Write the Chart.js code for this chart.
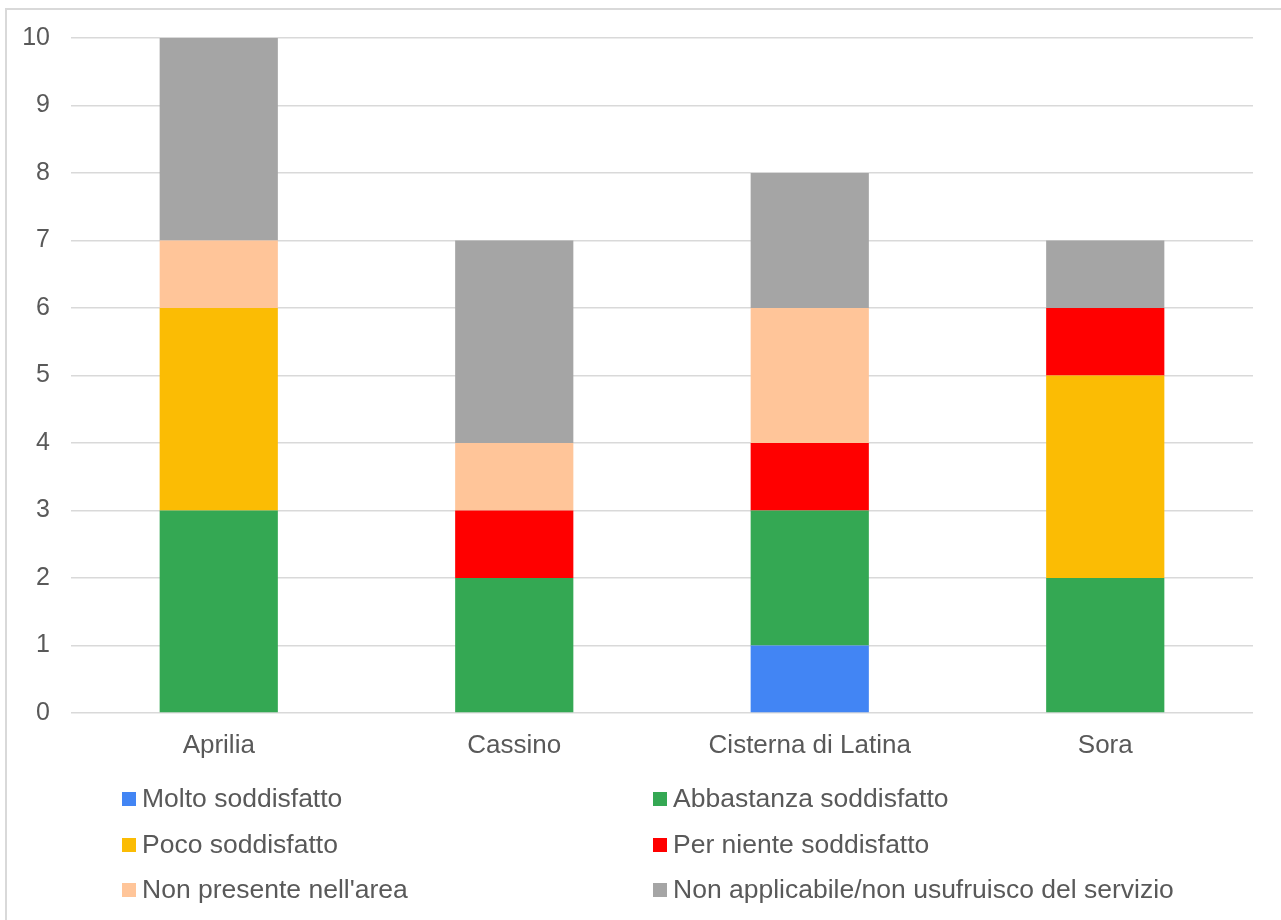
<!DOCTYPE html>
<html>
<head>
<meta charset="utf-8">
<script src="https://cdn.jsdelivr.net/npm/chart.js@4.4.1/dist/chart.umd.min.js"></script>
<style>
  html, body { margin: 0; padding: 0; background: #ffffff; overflow: hidden; }
  #wrap { position: relative; width: 1281px; height: 920px; }
  #frame { position: absolute; left: 5px; top: 8px; width: 1300px; height: 1000px; border: 2px solid #d9d9d9; box-sizing: border-box; pointer-events: none; }
  canvas { position: absolute; left: 0; top: 0; }
</style>
</head>
<body>
<div id="wrap">
  <div id="frame"></div>
  <canvas id="c" width="1281" height="920"></canvas>
</div>
<script>
const categories = ['Aprilia', 'Cassino', 'Cisterna di Latina', 'Sora'];
const seriesNames = [
  'Molto soddisfatto',
  'Abbastanza soddisfatto',
  'Poco soddisfatto',
  'Per niente soddisfatto',
  "Non presente nell'area",
  'Non applicabile/non usufruisco del servizio'
];
const molto = [0, 0, 1, 0];
const abbastanza = [3, 2, 2, 2];
const poco = [3, 0, 0, 3];
const perNiente = [0, 1, 1, 1];
const nonPresente = [1, 1, 2, 0];
const nonApplicabile = [3, 3, 2, 1];
const yTickValues = [0, 1, 2, 3, 4, 5, 6, 7, 8, 9, 10];

const seriesValues = [molto, abbastanza, poco, perNiente, nonPresente, nonApplicabile];
const seriesColors = ['#4285f4', '#34a853', '#fbbc04', '#ff0000', '#ffc599', '#a5a5a5'];

const FONT = "'Liberation Sans', Arial, sans-serif";
const TEXT = '#595959';

const legendPlugin = {
  id: 'twoColLegend',
  afterDraw(chart) {
    const ctx = chart.ctx;
    const boxX = [122, 653];
    const textX = [142, 673];
    const rowY = [799, 845, 890];
    ctx.save();
    ctx.font = '26.5px ' + FONT;
    ctx.textBaseline = 'middle';
    ctx.textAlign = 'left';
    chart.data.datasets.forEach((ds, i) => {
      const col = i % 2, row = Math.floor(i / 2);
      ctx.fillStyle = ds.backgroundColor;
      ctx.fillRect(boxX[col], rowY[row] - 7, 14, 14);
      ctx.fillStyle = TEXT;
      ctx.fillText(ds.label, textX[col], rowY[row] + 1);
    });
    ctx.restore();
  }
};

new Chart(document.getElementById('c'), {
  type: 'bar',
  data: {
    labels: categories,
    datasets: seriesNames.map((name, i) => ({
      label: name,
      data: seriesValues[i],
      backgroundColor: seriesColors[i],
      borderWidth: 0,
      categoryPercentage: 1.0,
      barPercentage: 0.4
    }))
  },
  options: {
    responsive: false,
    animation: false,
    devicePixelRatio: 1,
    layout: { padding: { left: 0, right: 28, top: 38, bottom: 147 } },
    plugins: {
      legend: { display: false },
      tooltip: { enabled: false },
      title: { display: false }
    },
    scales: {
      x: {
        stacked: true,
        grid: { display: false, drawTicks: false },
        border: { display: false },
        ticks: { color: TEXT, font: { family: FONT, size: 26 }, padding: 17, maxRotation: 0 },
        afterFit(scale) { scale.height = 60; }
      },
      y: {
        stacked: true,
        min: 0,
        max: 10,
        afterBuildTicks(scale) { scale.ticks = yTickValues.map(v => ({ value: v })); },
        grid: { color: '#d9d9d9', lineWidth: 1.5, drawTicks: false },
        border: { display: false },
        ticks: { color: TEXT, font: { family: FONT, size: 25 }, padding: 21 },
        afterFit(scale) { scale.width = 71; }
      }
    }
  },
  plugins: [legendPlugin]
});
</script>
</body>
</html>
